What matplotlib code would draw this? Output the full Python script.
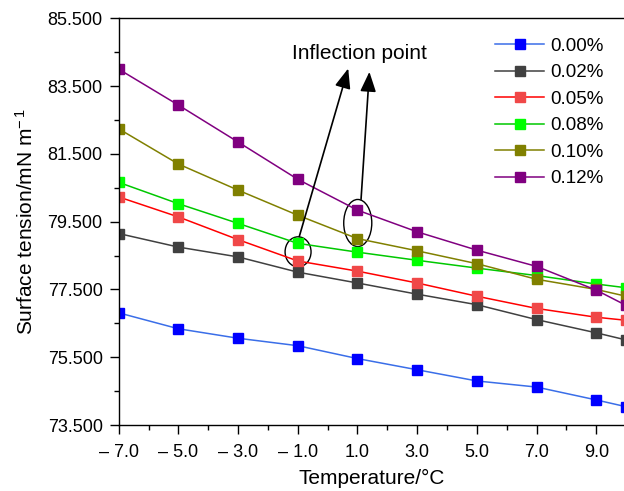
import numpy as np
import matplotlib
matplotlib.use("Agg")
import matplotlib.pyplot as plt
from matplotlib.patches import Ellipse
from matplotlib.ticker import MultipleLocator, FuncFormatter

plt.rcParams['font.family'] = ['Liberation Sans', 'DejaVu Sans']
plt.rcParams['mathtext.fontset'] = 'custom'
plt.rcParams['mathtext.rm'] = 'Liberation Sans'
plt.rcParams['mathtext.it'] = 'Liberation Sans'

# temperature (deg C)
temps = [-7, -5, -3, -1, 1, 3, 5, 7, 9, 10]

# surface tension (mN/m) per concentration
st_000 = [76.81, 76.34, 76.06, 75.84, 75.46, 75.13, 74.80, 74.62, 74.24, 74.04]
st_002 = [79.15, 78.75, 78.46, 78.01, 77.69, 77.36, 77.05, 76.61, 76.22, 76.01]
st_005 = [80.23, 79.64, 78.97, 78.34, 78.04, 77.69, 77.30, 76.94, 76.68, 76.59]
st_008 = [80.66, 80.03, 79.45, 78.86, 78.60, 78.36, 78.13, 77.91, 77.66, 77.55]
st_010 = [82.24, 81.20, 80.43, 79.69, 79.00, 78.64, 78.26, 77.80, 77.50, 77.30]
st_012 = [84.00, 82.94, 81.85, 80.75, 79.84, 79.20, 78.66, 78.18, 77.48, 77.03]

labels = ['0.00%', '0.02%', '0.05%', '0.08%', '0.10%', '0.12%']
series = [st_000, st_002, st_005, st_008, st_010, st_012]
line_cols = ['#3a6ee8', '#404040', '#ff0000', '#00c800', '#808000', '#800080']
mark_cols = ['#0000ff', '#404040', '#f04848', '#00ff00', '#808000', '#800080']

fig = plt.figure(figsize=(6.24, 4.91), dpi=100)
ax = fig.add_axes([0.1902, 0.1344, 0.8098, 0.8283])

for ys, lab, lc, mc in zip(series, labels, line_cols, mark_cols):
    ax.plot(temps, ys, color=lc, lw=1.1, marker='s', ms=7,
            markerfacecolor=mc, markeredgecolor=mc, label=lab)

ax.set_xlim(-7, 9.93)
ax.set_ylim(73.5, 85.5)
ax.xaxis.set_major_locator(MultipleLocator(2, offset=1))
ax.xaxis.set_minor_locator(MultipleLocator(2))
ax.yaxis.set_major_locator(MultipleLocator(2, offset=1.5))
ax.yaxis.set_minor_locator(MultipleLocator(1, offset=0.5))


def xfmt(v, pos):
    if v < 0:
        return '\u2013 %.1f' % abs(v)
    return '%.1f' % v


ax.xaxis.set_major_formatter(FuncFormatter(xfmt))
ax.yaxis.set_major_formatter(FuncFormatter(lambda v, p: '%.3f' % v))
ax.tick_params(which='major', direction='out', length=6.5, width=1.0,
               labelsize=13, top=False, right=False)
ax.tick_params(which='minor', direction='out', length=3.5, width=1.0,
               top=False, right=False)
ax.tick_params(axis='x', pad=7)
ax.tick_params(axis='y', pad=5)
ax.spines['right'].set_visible(False)
for s in ['left', 'bottom', 'top']:
    ax.spines[s].set_linewidth(1.0)

ax.set_xlabel('Temperature/\u00b0C', fontsize=15, labelpad=6)
ax.set_ylabel('Surface tension/mN m$^{\u2212\\,1}$', fontsize=15, labelpad=8)

# inflection point markings
ax.add_patch(Ellipse((-0.99, 78.61), 0.87, 0.885, fill=False, ec='black', lw=1.0))
ax.add_patch(Ellipse((1.01, 79.46), 0.94, 1.39, fill=False, ec='black', lw=1.0))
arrow_style = '-|>,head_length=0.55,head_width=0.22'
ax.annotate('', xy=(0.69, 84.02), xytext=(-0.95, 79.06),
            arrowprops=dict(arrowstyle=arrow_style, color='black', lw=1.2,
                            mutation_scale=22, shrinkA=0, shrinkB=0))
ax.annotate('', xy=(1.40, 83.92), xytext=(1.12, 80.16),
            arrowprops=dict(arrowstyle=arrow_style, color='black', lw=1.2,
                            mutation_scale=22, shrinkA=0, shrinkB=0))
ax.text(1.05, 84.47, 'Inflection point', fontsize=15, ha='center', va='center')

fig.legend(loc='upper left', bbox_to_anchor=(0.782, 0.939), frameon=False,
           fontsize=13.5, handlelength=2.6, handletextpad=0.3, labelspacing=0.5,
           borderaxespad=0)

fig.savefig('out.png', dpi=100)
